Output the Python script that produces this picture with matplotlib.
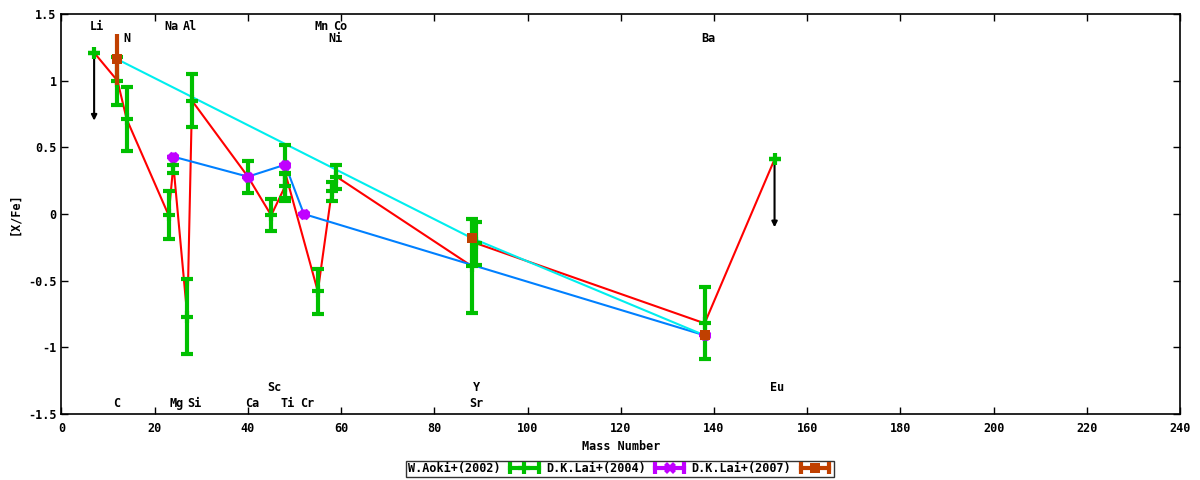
import numpy as np
import matplotlib.pyplot as plt
from matplotlib.ticker import FixedLocator
from matplotlib.lines import Line2D
from matplotlib.legend_handler import HandlerLine2D

# W.Aoki+(2002) abundances, sorted by mass number
aoki_x = [7, 12, 14, 23, 24, 27, 28, 40, 45, 48, 48, 55, 58, 59, 88, 89, 138, 153]
aoki_y = [1.21, 1.00, 0.71, -0.01, 0.37, -0.77, 0.85, 0.28, -0.01, 0.21, 0.31,
          -0.58, 0.17, 0.28, -0.39, -0.22, -0.82, 0.41]
aoki_err = [0, 0.18, 0.24, 0.18, 0.06, 0.28, 0.20, 0.12, 0.12, 0.09, 0.21,
            0.17, 0.07, 0.09, 0.35, 0.16, 0.27, 0]

# upper limits (Li, Eu)
ul_x = [7, 153]
ul_y = [1.21, 0.41]
ul_tip = [0.70, -0.10]

# D.K.Lai+(2004)
lai04_x = [24, 40, 48, 52, 138]
lai04_y = [0.43, 0.28, 0.37, 0.00, -0.91]
lai04_err = [0, 0, 0, 0, 0]

# D.K.Lai+(2007)
lai07_x = [12, 88, 138]
lai07_y = [1.16, -0.18, -0.91]
lai07_err = [0.19, 0, 0]

# element labels
el_names = ['Li', 'Na', 'Al', 'Mn', 'Co', 'N', 'Ni', 'Ba',
            'C', 'Mg', 'Si', 'Ca', 'Ti', 'Cr', 'Sr', 'Sc', 'Y', 'Eu']
el_x = [7.6, 23.7, 27.6, 55.9, 59.8, 14.1, 58.7, 138.7,
        11.9, 24.6, 28.6, 40.9, 48.6, 52.7, 89.0, 45.6, 89.0, 153.5]
el_y = [1.41, 1.41, 1.41, 1.41, 1.41, 1.32, 1.32, 1.32,
        -1.42, -1.42, -1.42, -1.42, -1.42, -1.42, -1.42, -1.30, -1.30, -1.30]

xticks = list(range(0, 241, 20))
yticks = [-1.5, -1, -0.5, 0, 0.5, 1, 1.5]
ytick_labels = ['-1.5', '-1', '-0.5', '0', '0.5', '1', '1.5']

green, purple, brown = '#00c000', '#c000ff', '#c04000'
FS = 8.5

plt.rcParams['font.family'] = 'DejaVu Sans Mono'
plt.rcParams['font.weight'] = 'bold'
plt.rcParams['font.size'] = FS

fig = plt.figure(figsize=(12, 4.8), dpi=100)
ax = fig.add_axes([0.05125, 0.1375, 0.93208, 0.83333])

# connecting lines
ax.plot(aoki_x, aoki_y, color='#ff0000', lw=1.5, zorder=2)
ax.plot(lai04_x, lai04_y, color='#0080ff', lw=1.5, zorder=2)
ax.plot(lai07_x, lai07_y, color='#00eeee', lw=1.5, zorder=2)

ax.errorbar(aoki_x, aoki_y, yerr=aoki_err, fmt='none', ecolor=green,
            elinewidth=3, capsize=4, capthick=3, zorder=3)
ax.plot(aoki_x, aoki_y, ls='none', marker='+', color=green, ms=9, mew=3, zorder=3)
ax.errorbar(lai04_x, lai04_y, yerr=lai04_err, fmt='none', ecolor=purple,
            elinewidth=3, capsize=4, capthick=3, zorder=4)
ax.plot(lai04_x, lai04_y, ls='none', marker='+', color=purple, ms=7, mew=3.5, zorder=4)
ax.plot(lai04_x, lai04_y, ls='none', marker='x', color=purple, ms=6, mew=3.5, zorder=4)
ax.errorbar(lai07_x, lai07_y, yerr=lai07_err, fmt='s', color=brown,
            ms=7.5, mew=0, elinewidth=3, capsize=4, capthick=3, zorder=5)

# legend samples: horizontal bar with end ticks plus the point marker
def sample(color, marker, ms, mew):
    bar = Line2D([], [], color=color, lw=3, marker='|', ms=9, mew=3)
    pt = Line2D([], [], ls='none', color=color, marker=marker, ms=ms, mew=mew)
    return bar, pt

b1, p1 = sample(green, '+', 9, 3)
b2, p2 = sample(purple, 'X', 9, 0)
b3, p3 = sample(brown, 's', 7.5, 0)
hmap = {b: HandlerLine2D(numpoints=2) for b in (b1, b2, b3)}
hmap.update({p: HandlerLine2D(numpoints=1) for p in (p1, p2, p3)})

# upper limit arrows
for x, y, t in zip(ul_x, ul_y, ul_tip):
    ax.annotate('', xy=(x, t), xytext=(x, y),
                arrowprops=dict(arrowstyle='-|>', color='black', lw=1.5,
                                mutation_scale=8, shrinkA=0, shrinkB=0),
                zorder=2.5)

for name, x, y in zip(el_names, el_x, el_y):
    ax.text(x, y, name, ha='center', va='center', fontsize=FS, fontweight='bold')

ax.set_xlim(0, 240)
ax.set_ylim(-1.5, 1.5)
ax.xaxis.set_major_locator(FixedLocator(xticks))
ax.set_yticks(yticks)
ax.set_yticklabels(ytick_labels)
ax.tick_params(direction='in', top=True, right=True, length=5, width=1,
               labelsize=FS)
ax.tick_params(axis='x', pad=6)
for s in ax.spines.values():
    s.set_linewidth(1.2)

ax.set_xlabel('Mass Number', fontsize=FS, fontweight='bold', labelpad=3)
ax.set_ylabel('[X/Fe]', fontsize=FS, fontweight='bold', labelpad=5)

fig.legend(handles=[(b1, p1), (b2, p2), (b3, p3)],
           labels=['W.Aoki+(2002)', 'D.K.Lai+(2004)', 'D.K.Lai+(2007)'],
           handler_map=hmap, loc='center', bbox_to_anchor=(0.517, 0.023),
           ncol=3, markerfirst=False, frameon=True, fancybox=False,
           edgecolor='black', handlelength=3.0, columnspacing=0.35,
           handletextpad=0.5, borderpad=0.15, borderaxespad=0, fontsize=FS)

fig.savefig('out.png', dpi=100)
